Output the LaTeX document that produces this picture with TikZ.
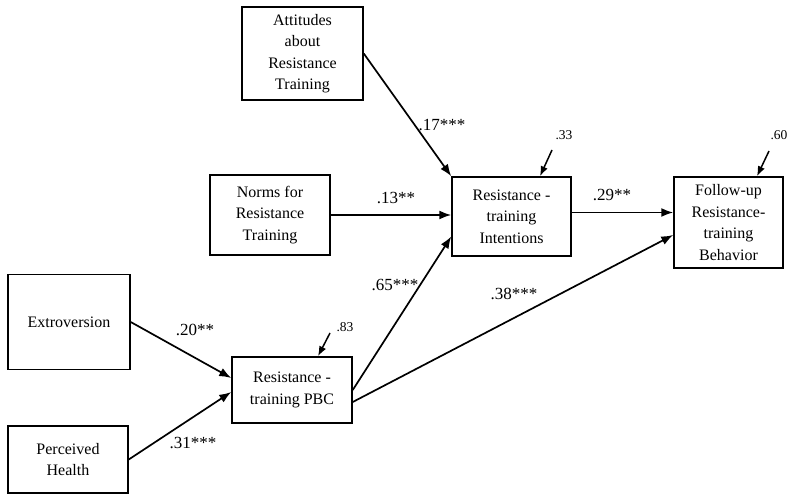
\documentclass[tikz,border=0pt]{standalone}
\usepackage{fontspec}
\setmainfont{Liberation Serif}
\usetikzlibrary{arrows.meta,positioning}
\begin{document}
\begin{tikzpicture}[x=1pt, y=-1pt, >={Latex[length=12pt,width=9pt]},
box/.style={draw, line width=1.5pt, align=center, inner sep=0pt, font=\fontsize{16}{21.5}\selectfont},
path/.style={->, line width=1.7pt},
coef/.style={font=\fontsize{17}{19}\selectfont, inner sep=1pt},
resid/.style={font=\fontsize{13.5}{15}\selectfont, inner sep=1pt}]
\useasboundingbox (0,0) rectangle (793,494);
\node[box, minimum width=121pt, minimum height=93pt] (att) at (302.5,53.5) {Attitudes\\about\\Resistance\\Training};
\node[box, minimum width=120pt, minimum height=80pt] (nor) at (270,215) {Norms for\\Resistance\\Training};
\node[box, minimum width=122pt, minimum height=95pt] (ext) at (69,322) {Extroversion};
\node[box, minimum width=120pt, minimum height=67pt] (hea) at (68,459.5) {Perceived\\Health};
\node[box, minimum width=120pt, minimum height=66pt] (pbc) at (292,390) {Resistance -\\training PBC};
\node[box, minimum width=119pt, minimum height=79pt] (int) at (511.5,216.5) {Resistance -\\training\\Intentions};
\node[box, minimum width=109pt, minimum height=91pt] (fol) at (728.5,222.5) {Follow-up\\Resistance-\\training\\Behavior};
\draw[path] (att.east) -- (int.north west); \draw[path] (nor.east) -- (nor.east -| int.west); \draw[path] ([yshift=4pt]int.east) -- ([yshift=4pt]int.east -| fol.west);
\draw[path] (pbc.east) -- ([yshift=-20pt]int.west); \draw[path] ([yshift=-12pt]pbc.east) -- ([yshift=-12.5pt]fol.west);
\draw[path] (ext.east) -- ([yshift=12pt]pbc.west); \draw[path] (hea.east) -- ([yshift=-2pt]pbc.west);
\coordinate (e83) at (330,333); \coordinate (e33) at (552,150); \coordinate (e60) at (769,151);
\draw[path, line width=1.5pt, >={Latex[length=10pt,width=7.5pt]}] (e83) -- ([xshift=26pt]pbc.north); \draw[path, line width=1.5pt, >={Latex[length=10pt,width=7.5pt]}] (e33) -- ([xshift=28.5pt]int.north); \draw[path, line width=1.5pt, >={Latex[length=10pt,width=7.5pt]}] (e60) -- ([xshift=28.5pt]fol.north);
\node[resid] (l83) at (345,327) {.83}; \node[resid] (l33) at (564,135) {.33}; \node[resid] (l60) at (779,135) {.60};
\node[coef] (c17) at (442,125) {.17***}; \node[coef] (c13) at (396,198) {.13**}; \node[coef] (c29) at (612,195) {.29**};
\node[coef] (c65) at (395,285) {.65***}; \node[coef] (c38) at (514,294) {.38***};
\node[coef] (c20) at (195,330) {.20**}; \node[coef] (c31) at (193,443) {.31***};
\end{tikzpicture}
\end{document}
